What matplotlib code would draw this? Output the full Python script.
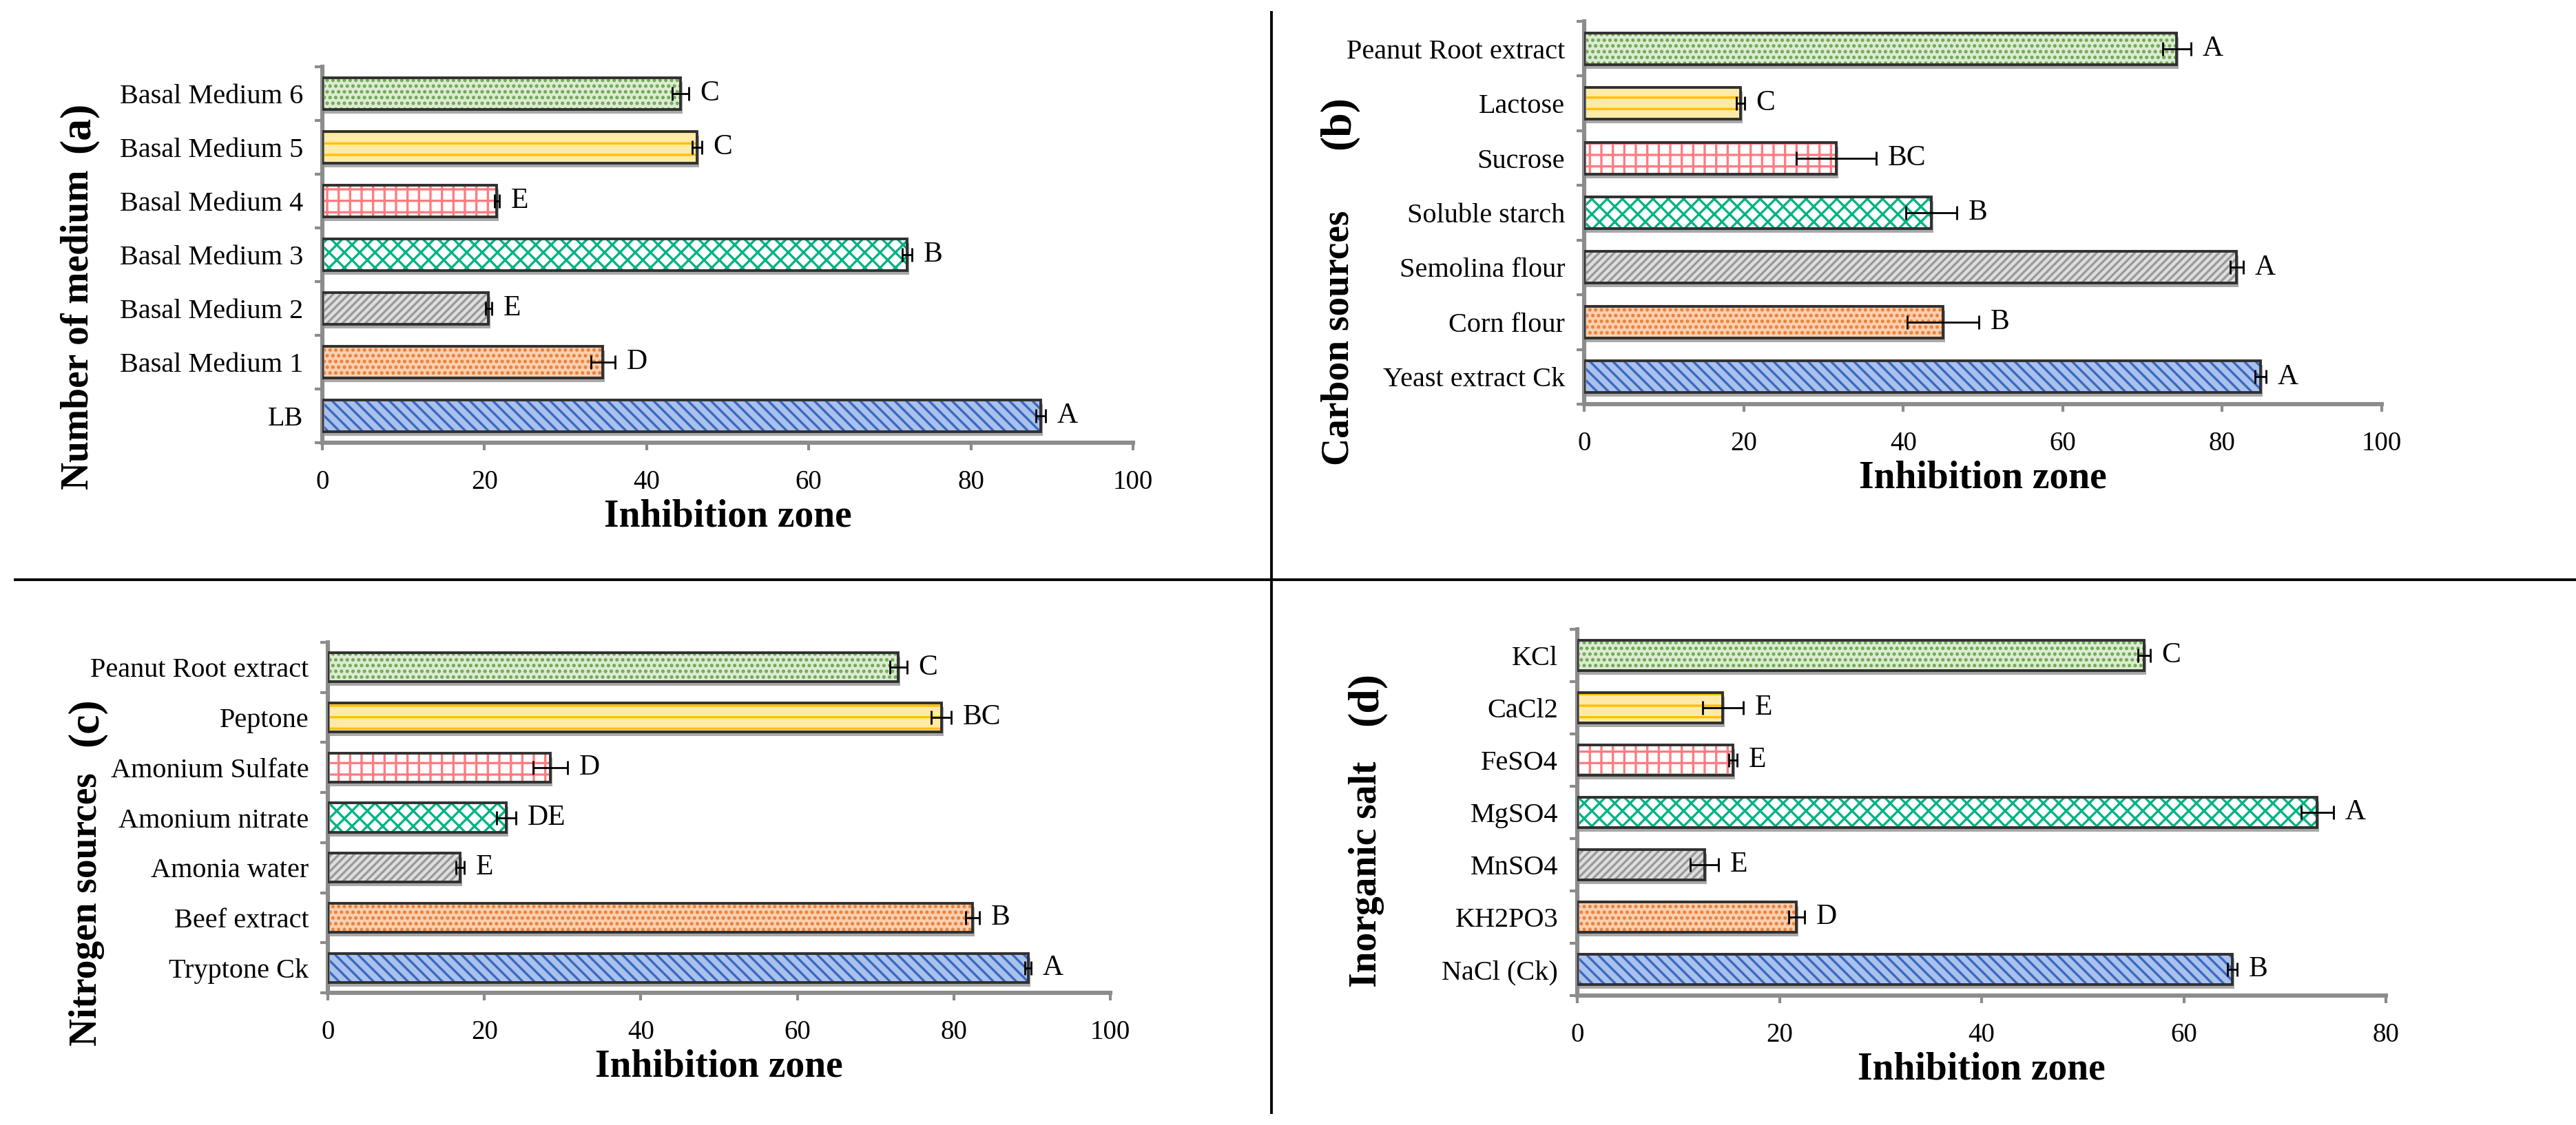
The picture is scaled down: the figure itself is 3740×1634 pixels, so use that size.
import matplotlib
matplotlib.use("Agg")
import matplotlib.pyplot as plt
import matplotlib.transforms as mtransforms
import numpy as np

plt.rcParams['font.family'] = ['Liberation Serif', 'DejaVu Serif']
plt.rcParams['hatch.linewidth'] = 1.2

# ---------------- data (bottom to top) ----------------
a_labels = ["LB", "Basal Medium 1", "Basal Medium 2", "Basal Medium 3",
            "Basal Medium 4", "Basal Medium 5", "Basal Medium 6"]
a_values = [88.6, 34.6, 20.5, 72.1, 21.5, 46.2, 44.2]
a_errors = [0.6, 1.5, 0.4, 0.6, 0.3, 0.6, 1.0]
a_letters = ["A", "D", "E", "B", "E", "C", "C"]

b_labels = ["Yeast extract Ck", "Corn flour", "Semolina flour", "Soluble starch",
            "Sucrose", "Lactose", "Peanut Root extract"]
b_values = [84.8, 45.0, 81.8, 43.5, 31.6, 19.6, 74.3]
b_errors = [0.7, 4.5, 0.8, 3.2, 5.0, 0.5, 1.8]
b_letters = ["A", "B", "A", "B", "BC", "C", "A"]

c_labels = ["Tryptone Ck", "Beef extract", "Amonia water", "Amonium nitrate",
            "Amonium Sulfate", "Peptone", "Peanut Root extract"]
c_values = [89.5, 82.4, 16.9, 22.8, 28.4, 78.4, 72.9]
c_errors = [0.4, 0.9, 0.5, 1.2, 2.2, 1.3, 1.1]
c_letters = ["A", "B", "E", "DE", "D", "BC", "C"]

d_labels = ["NaCl (Ck)", "KH2PO3", "MnSO4", "MgSO4", "FeSO4", "CaCl2", "KCl"]
d_values = [64.8, 21.7, 12.6, 73.2, 15.4, 14.4, 56.1]
d_errors = [0.5, 0.8, 1.4, 1.6, 0.4, 2.0, 0.6]
d_letters = ["B", "D", "E", "A", "E", "E", "C"]

# bar styles (bottom to top)
hatch_colors = ['#3a68c0', '#ED7D31', '#9a9a9a', '#00B383', '#FF7C80', '#FFC000', '#6aa84f']
face_colors = ['#a9c1ec', '#f9cfb0', '#dedede', '#ffffff', '#ffffff', '#ffeaa8', '#dcebd2']
hatches = ['\\\\\\\\', '....', '//////', 'xxx', '++', '--', '....']

W, H = 3740, 1634
fig = plt.figure(figsize=(W / 200, H / 200), dpi=200)


def px_rect(l, r, t, b):
    return [l / W, 1 - b / H, (r - l) / W, (b - t) / H]


def panel(rect, labels, values, errors, letters, xmax, xstep):
    ax = fig.add_axes(rect)
    y = np.arange(len(labels))
    shadow_tr = mtransforms.offset_copy(ax.transData, fig=fig, x=3, y=-6, units='dots')
    h = 0.58
    for i in range(len(labels)):
        ax.barh(y[i], values[i], height=h, color='#a8a8a8', linewidth=0,
                transform=shadow_tr, zorder=1)
        ax.barh(y[i], values[i], height=h, color=face_colors[i], hatch=hatches[i],
                edgecolor=hatch_colors[i], linewidth=0, zorder=2)
        ax.barh(y[i], values[i], height=h, fill=False, edgecolor='#303030',
                linewidth=1.4, zorder=3)
    ax.errorbar(values, y, xerr=errors, fmt='none', ecolor='black',
                elinewidth=1.0, capsize=3.5, capthick=1.0, zorder=4)
    for i in range(len(labels)):
        ax.annotate(letters[i], (values[i] + errors[i], y[i]), xytext=(6, 0),
                    textcoords='offset points', ha='left', va='center',
                    fontsize=15, zorder=5)
    ax.set_xlim(0, xmax)
    ax.set_ylim(-0.5, len(labels) - 0.5)
    ax.set_xticks(np.arange(0, xmax + 1, xstep))
    ax.set_yticks(y)
    ax.set_yticklabels(labels)
    ax.set_yticks(np.arange(-0.5, len(labels), 1), minor=True)
    for s in ['top', 'right']:
        ax.spines[s].set_visible(False)
    for s in ['left', 'bottom']:
        ax.spines[s].set_color('#8c8c8c')
        ax.spines[s].set_linewidth(2.2)
    ax.tick_params(axis='y', which='major', length=0, pad=10, labelsize=14.5)
    ax.tick_params(axis='y', which='minor', length=4, width=1.5, color='#8c8c8c',
                   direction='out')
    ax.tick_params(axis='x', length=4, width=1.5, color='#8c8c8c', pad=10,
                   labelsize=14)
    ax.set_xlabel('Inhibition zone', fontsize=20, fontweight='bold', labelpad=2)
    return ax


panel(px_rect(468, 1645, 97, 643), a_labels, a_values, a_errors, a_letters, 100, 20)
panel(px_rect(2300, 3458, 31, 587), b_labels, b_values, b_errors, b_letters, 100, 20)
panel(px_rect(476, 1612, 933, 1442), c_labels, c_values, c_errors, c_letters, 100, 20)
panel(px_rect(2290, 3464, 914, 1446), d_labels, d_values, d_errors, d_letters, 80, 20)

# y titles and panel letters
ytitles = [("Number of medium", 114, 479, "(a)", 185),
           ("Carbon sources", 1944, 491, "(b)", 178),
           ("Nitrogen sources", 126, 1321, "(c)", 1049),
           ("Inorganic salt", 1984, 1270, "(d)", 1015)]
for txt, xp, yp, let, ylp in ytitles:
    fig.text(xp / W, 1 - yp / H, txt, rotation=90, ha='center', va='center',
             fontsize=20, fontweight='bold')
    fig.text(xp / W, 1 - ylp / H, let, rotation=90, ha='center', va='center',
             fontsize=23, fontweight='bold')

# divider lines
fig.add_artist(plt.Line2D([1846 / W, 1846 / W], [1 - 18 / H, 1 - 1616 / H],
                          transform=fig.transFigure, color='black', linewidth=1.4))
fig.add_artist(plt.Line2D([22 / W, 1.0], [1 - 842 / H, 1 - 842 / H],
                          transform=fig.transFigure, color='black', linewidth=1.4))

fig.savefig('out.png', dpi=200, facecolor='white')
